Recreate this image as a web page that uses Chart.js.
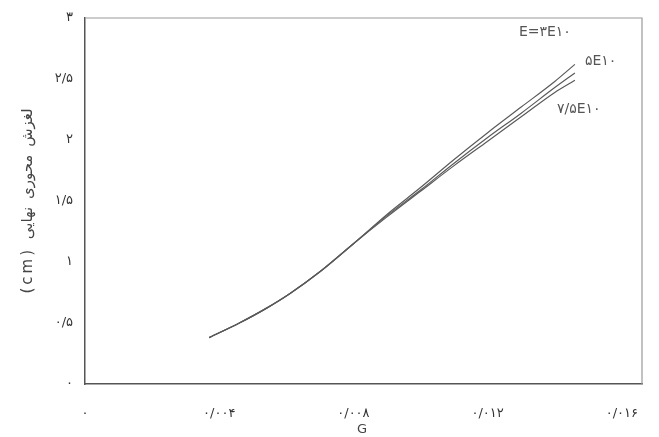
<!DOCTYPE html>
<html>
<head>
<meta charset="utf-8">
<script src="https://cdn.jsdelivr.net/npm/chart.js@4/dist/chart.umd.min.js"></script>
<style>
  html, body { margin: 0; padding: 0; background: #fff; }
  #wrap { width: 659px; height: 437px; }
</style>
</head>
<body>
<div id="wrap"><canvas id="slipChart"></canvas></div>
<script>
// values
const gValues = [0.0037, 0.0046, 0.0054, 0.0061, 0.0070, 0.0080, 0.0090, 0.0100, 0.0110, 0.0120, 0.0130, 0.0140, 0.0146];
const slipE3 = [0.38, 0.50, 0.62, 0.74, 0.92, 1.15, 1.39, 1.61, 1.84, 2.06, 2.27, 2.48, 2.62];
const slipE5 = [0.38, 0.50, 0.62, 0.74, 0.92, 1.15, 1.38, 1.59, 1.81, 2.02, 2.22, 2.43, 2.55];
const slipE75 = [0.38, 0.50, 0.62, 0.74, 0.92, 1.15, 1.37, 1.58, 1.79, 1.99, 2.19, 2.39, 2.49];
const seriesNames = ['E=۳E۱۰', '۵E۱۰', '۷/۵E۱۰'];

const xTickValues = [0, 0.004, 0.008, 0.012, 0.016];
const xTickLabels = ['۰', '۰/۰۰۴', '۰/۰۰۸', '۰/۰۱۲', '۰/۰۱۶'];
const yTickValues = [0, 0.5, 1, 1.5, 2, 2.5, 3];
const yTickLabels = ['۰', '۰/۵', '۱', '۱/۵', '۲', '۲/۵', '۳'];

const fontFamily = '"DejaVu Sans", sans-serif';

function toPoints(ys) {
    return gValues.map((g, i) => ({ x: g, y: ys[i] }));
}

function lineSet(label, ys) {
    return {
        label: label,
        data: toPoints(ys),
        borderColor: '#5a5a5a',
        borderWidth: 1.2,
        pointRadius: 0,
        fill: false,
        cubicInterpolationMode: 'monotone'
    };
}

// light frame on top / right, and the series names next to line ends
const framePlugin = {
    id: 'frame',
    beforeDraw(chart) {
        // wide spacing like the scanned axis title
        chart.ctx.letterSpacing = '3px';
    },
    afterDraw(chart) {
        const ctx = chart.ctx;
        const a = chart.chartArea;
        ctx.save();
        ctx.strokeStyle = '#9a9a9a';
        ctx.lineWidth = 1.2;
        ctx.beginPath();
        ctx.moveTo(a.left, a.top);
        ctx.lineTo(a.right, a.top);
        ctx.lineTo(a.right, a.bottom);
        ctx.stroke();

        const offsets = [
            { dx: -30, dy: -32, align: 'center' },
            { dx: 10, dy: -12, align: 'left' },
            { dx: -18, dy: 29, align: 'left' }
        ];
        ctx.fillStyle = '#555';
        ctx.font = '14px ' + fontFamily;
        ctx.letterSpacing = '0px';
        ctx.textBaseline = 'middle';
        chart.data.datasets.forEach((ds, i) => {
            const pts = chart.getDatasetMeta(i).data;
            const last = pts[pts.length - 1];
            const o = offsets[i];
            ctx.textAlign = o.align;
            ctx.fillText(seriesNames[i], last.x + o.dx, last.y + o.dy);
        });
        ctx.restore();
    }
};

new Chart(document.getElementById('slipChart'), {
    type: 'line',
    data: {
        datasets: [
            lineSet(seriesNames[0], slipE3),
            lineSet(seriesNames[1], slipE5),
            lineSet(seriesNames[2], slipE75)
        ]
    },
    options: {
        responsive: true,
        maintainAspectRatio: false,
        animation: false,
        layout: { padding: { top: 18, right: 17, left: 0, bottom: 0 } },
        plugins: {
            legend: { display: false },
            tooltip: { enabled: false }
        },
        scales: {
            x: {
                type: 'linear',
                min: 0,
                max: 0.0166,
                afterBuildTicks(axis) {
                    axis.ticks = xTickValues.map(v => ({ value: v }));
                },
                afterFit(axis) {
                    axis.height = 53;
                },
                grid: { display: false },
                border: { display: true, color: '#555', width: 1.5 },
                ticks: {
                    padding: 14,
                    color: '#333',
                    font: { family: fontFamily, size: 13 },
                    maxRotation: 0,
                    callback: (v, i) => xTickLabels[i]
                },
                title: {
                    display: true,
                    text: 'G',
                    color: '#444',
                    font: { family: fontFamily, size: 13 },
                    padding: { top: 0, bottom: 0 }
                }
            },
            y: {
                type: 'linear',
                min: 0,
                max: 3,
                afterBuildTicks(axis) {
                    axis.ticks = yTickValues.map(v => ({ value: v }));
                },
                afterFit(axis) {
                    axis.width = 85;
                },
                grid: { display: false },
                border: { display: true, color: '#555', width: 1.5 },
                ticks: {
                    padding: 4,
                    color: '#333',
                    font: { family: fontFamily, size: 13 },
                    callback: (v, i) => yTickLabels[i]
                },
                title: {
                    display: true,
                    text: '(cm) لغزش محوری نهایی',
                    color: '#444',
                    font: { family: fontFamily, size: 15 },
                    padding: { top: 19, bottom: 0 }
                }
            }
        }
    },
    plugins: [framePlugin]
});
</script>
</body>
</html>
